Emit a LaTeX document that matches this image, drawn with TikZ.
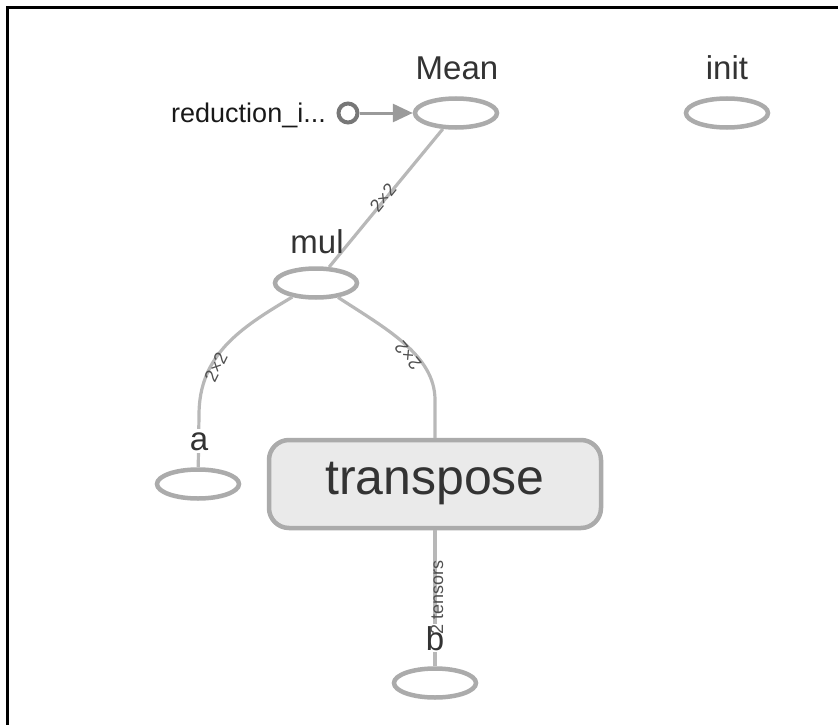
\documentclass[tikz,border=0pt]{standalone}
\usepackage{fontspec}
\setmainfont{Liberation Sans}
\usetikzlibrary{shapes.geometric,arrows.meta}
\definecolor{edgec}{HTML}{B8B8B8}
\definecolor{nodec}{HTML}{ABABAB}
\definecolor{txt}{HTML}{333333}
\definecolor{elbl}{HTML}{505050}
\definecolor{boxfill}{HTML}{EAEAEA}
\definecolor{dotc}{HTML}{777777}
\definecolor{arrc}{HTML}{9A9A9A}
\begin{document}
\begin{tikzpicture}[x=1pt,y=-1pt,
  opnode/.style={ellipse,draw=nodec,line width=4.5pt,fill=white,
    minimum width=82pt,minimum height=29pt,inner sep=0pt},
  bigbox/.style={rectangle,rounded corners=20pt,draw=nodec,line width=4.5pt,
    fill=boxfill,minimum width=332pt,minimum height=88pt,inner sep=0pt,
    text=txt,font=\fontsize{50}{60}\selectfont},
  dotnode/.style={circle,draw=dotc,line width=4pt,fill=white,
    minimum size=19pt,inner sep=0pt},
  lbl/.style={text=txt,font=\fontsize{33}{40}\selectfont,anchor=base,inner sep=0pt},
  smalllbl/.style={text=elbl,font=\fontsize{18}{22}\selectfont,inner sep=0pt},
  edge/.style={draw=edgec,line width=3.2pt},
  arrowedge/.style={draw=arrc,line width=3pt,
    -{Triangle[length=20pt,width=18pt]}}
]
\useasboundingbox (0,0) rectangle (838,725);
% frame (top and left only)
\draw[line width=3pt,black] (7.5,725) -- (7.5,7.5) -- (838,7.5);

% operation nodes
\node[opnode] (Mean) at (456,113) {};
\node[opnode] (init) at (727,113) {};
\node[opnode] (mul) at (316,283) {};
\node[opnode] (a) at (198,484) {};
\node[opnode] (b) at (435,683) {};
\node[bigbox] (transpose) at (435,484) {transpose};
\node[dotnode] (red) at (348,113) {};

% connectors
\draw[arrowedge] (red) -- (Mean);
\draw[edge] (Mean) -- (mul);
\draw[edge] (mul) .. controls (240,328) and (199,355) .. (199,415) -- (a);
\draw[edge] (mul) .. controls (385,328) and (435,355) .. (435,400) -- (transpose);
\draw[edge] (transpose) -- (b);

% node labels
\node[lbl] (meanlbl) at (457,80) {Mean};
\node[lbl] (initlbl) at (727,80) {init};
\node[lbl] (mullbl) at (317,253) {mul};
\node[lbl,fill=white,inner sep=3pt] (albl) at (199,450) {a};
\node[lbl,fill=white,inner sep=2pt] (blbl) at (435,650) {b};
\node[text=black!90,font=\fontsize{27}{32}\selectfont,anchor=base east,inner sep=0pt]
  (redlbl) at (326,122) {reduction\_i...};

% edge labels
\node[smalllbl,rotate=51] (l1) at (383,198) {2×2};
\node[smalllbl,rotate=64] (l2) at (216,367) {2×2};
\node[smalllbl,rotate=130] (l3) at (408,356) {2×2};
\node[smalllbl,rotate=90] (l4) at (437,597) {2 tensors};
\end{tikzpicture}
\end{document}
